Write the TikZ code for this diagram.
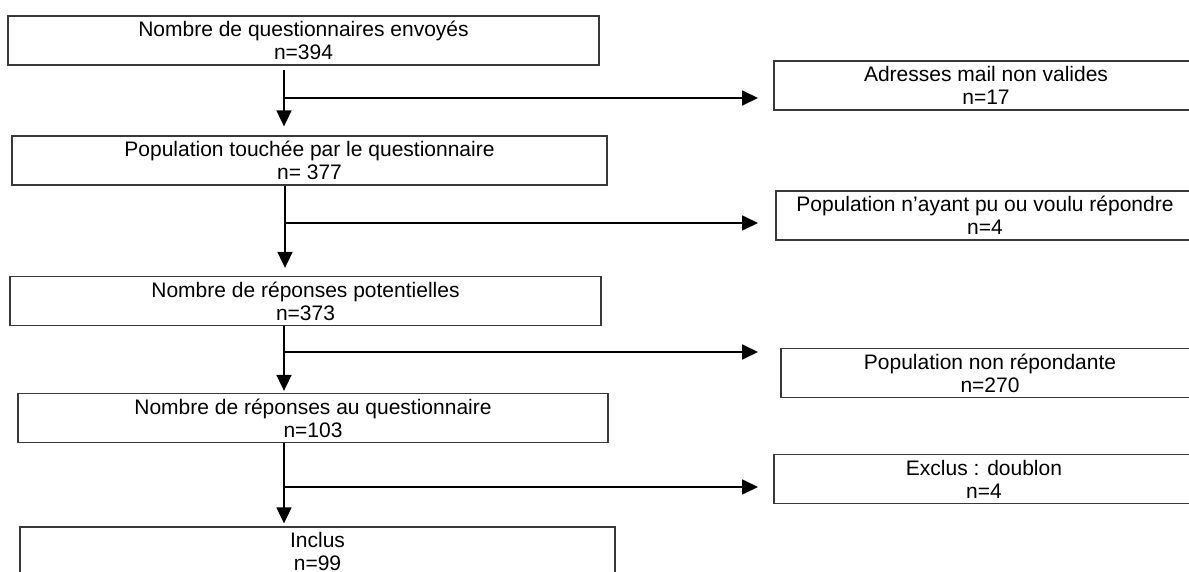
\documentclass[tikz,border=0pt]{standalone}
\usepackage{fontspec}
\setmainfont{Liberation Sans}
\usetikzlibrary{arrows.meta}
\begin{document}
\begin{tikzpicture}[x=1pt,y=-1pt,
  box/.style={draw=black!78, line width=1.3pt, minimum height=49pt, inner sep=0pt,
    align=center, font=\fontsize{21}{23}\selectfont},
  conn/.style={line width=1.8pt, black},
  arr/.style={conn, -{Triangle[length=16pt,width=15pt]}}]
\clip (0,0) rectangle (1189,572);
\useasboundingbox (0,0) rectangle (1189,572);
\fill[white] (0,0) rectangle (1189,572);
% main column
\node[box, minimum width=591pt] (b1) at (303.5,40.5) {Nombre de questionnaires envoyés\\n=394};
\node[box, minimum width=595pt] (b2) at (309.5,160.5) {Population touchée par le questionnaire\\n= 377};
\node[box, minimum width=591pt] (b3) at (305.5,301) {Nombre de réponses potentielles\\n=373};
\node[box, minimum width=590pt] (b4) at (313,418) {Nombre de réponses au questionnaire\\n=103};
\node[box, minimum width=595pt] (b5) at (317.5,551.5) {Inclus\\n=99};
% side column
\node[box, minimum width=424pt] (a1) at (986,85.5) {Adresses mail non valides\\n=17};
\node[box, minimum width=418pt] (a2) at (985,215.5) {Population n’ayant pu ou voulu répondre\\n=4};
\node[box, minimum width=418pt] (a3) at (990,373) {Population non répondante\\n=270};
\node[box, minimum width=420pt] (a4) at (984,479) {Exclus : doublon\\n=4};
% junctions and arrow tip column
\coordinate (j1) at (284,98);
\coordinate (j2) at (285,223);
\coordinate (j3) at (284,352);
\coordinate (j4) at (284,487);
\coordinate (tipx) at (758,0);
% vertical arrows
\draw[arr] ([yshift=-4pt]b1.south -| j1) -- ([yshift=9pt]b2.north -| j1);
\draw[arr] (b2.south -| j2) -- ([yshift=8pt]b3.north -| j2);
\draw[arr] (b3.south -| j3) -- ([yshift=2pt]b4.north -| j3);
\draw[arr] (b4.south -| j4) -- ([yshift=3pt]b5.north -| j4);
% branch arrows
\draw[arr] (j1) -- (tipx |- j1);
\draw[arr] (j2) -- (tipx |- j2);
\draw[arr] (j3) -- (tipx |- j3);
\draw[arr] (j4) -- (tipx |- j4);
\end{tikzpicture}
\end{document}
